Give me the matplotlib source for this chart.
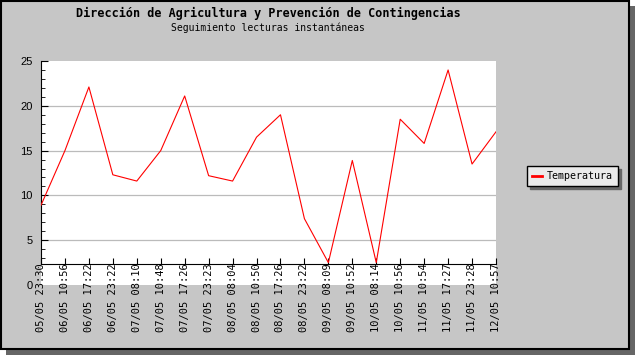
import matplotlib
matplotlib.use("Agg")
import matplotlib.pyplot as plt
from matplotlib.patches import Rectangle
from matplotlib.ticker import MultipleLocator

W, H = 635, 355

titulo = "Dirección de Agricultura y Prevención de Contingencias"
subtitulo = "Seguimiento lecturas instantáneas"
serie = "Temperatura"

etiquetas = ["05/05 23:30", "06/05 10:56", "06/05 17:22", "06/05 23:22",
             "07/05 08:10", "07/05 10:48", "07/05 17:26", "07/05 23:23",
             "08/05 08:04", "08/05 10:50", "08/05 17:26", "08/05 23:22",
             "09/05 08:09", "09/05 10:52", "10/05 08:14", "10/05 10:56",
             "11/05 10:54", "11/05 17:27", "11/05 23:28", "12/05 10:57"]
temperatura = [8.9, 15.0, 22.1, 12.3, 11.6, 15.0, 21.1, 12.2, 11.6, 16.5,
               19.0, 7.4, 2.5, 13.9, 2.5, 18.5, 15.8, 24.0, 13.5, 17.1]

fondo = "#C6C6C6"
mono = "DejaVu Sans Mono"


def caja(x, y, w, h, **kw):
    # rectangulo en pixeles de la figura (origen arriba a la izquierda)
    return Rectangle((x / W, 1 - (y + h) / H), w / W, h / H,
                     transform=fig.transFigure, zorder=-10, **kw)


fig = plt.figure(figsize=(W / 100, H / 100), dpi=100)
fig.patch.set_facecolor("white")

# marco con sombra
fig.add_artist(caja(6, 6, W - 6, H - 6, facecolor="#666666", edgecolor="none"))
fig.add_artist(caja(0.5, 0.5, 628, 348, facecolor=fondo, edgecolor="black", linewidth=1.5))

fig.text(268 / W, 1 - 13 / H, titulo, ha="center", va="center",
         family=mono, weight="bold", fontsize=8.5)
fig.text(268 / W, 1 - 28 / H, subtitulo, ha="center", va="center",
         family=mono, fontsize=7)

ax = fig.add_axes([41 / W, 1 - 285 / H, (496 - 41) / W, (285 - 61) / H])
ax.set_facecolor("white")

x = list(range(len(temperatura)))
ax.plot(x, temperatura, color="red", linewidth=0.8, label=serie, zorder=3)

ax.set_xlim(0, len(x) - 1)
ax.set_ylim(0, 25)

for y in [5, 10, 15, 20]:
    ax.axhline(y, color="#BBBBBB", linewidth=0.9, zorder=1)

ax.spines["top"].set_visible(False)
ax.spines["right"].set_visible(False)
ax.spines["bottom"].set_position(("data", 2.3))
ax.spines["left"].set_bounds(2.3, 25)

ax.set_xticks(x)
ax.set_xticklabels(etiquetas, rotation=90, family=mono, fontsize=7.5)
ax.tick_params(axis="x", direction="in", length=4, pad=-1)

ax.yaxis.set_major_locator(MultipleLocator(5))
ax.yaxis.set_minor_locator(MultipleLocator(1))
ax.tick_params(axis="y", which="major", direction="in", length=5, labelsize=8, pad=6)
ax.tick_params(axis="y", which="minor", direction="in", length=3)
for lab in ax.get_yticklabels():
    lab.set_family("Liberation Sans")
for t in ax.yaxis.get_major_ticks():
    if t.get_loc() < 2.3:
        t.tick1line.set_visible(False)
for t in ax.yaxis.get_minor_ticks():
    if t.get_loc() < 2.3:
        t.tick1line.set_visible(False)

leg = ax.legend(loc="center left", bbox_to_anchor=(527 / W, 1 - 176 / H),
                bbox_transform=fig.transFigure, borderaxespad=0,
                fancybox=False, edgecolor="black", facecolor="#EBEBEB", framealpha=1,
                shadow={"ox": 2.5, "oy": -2.5, "color": "#666666", "alpha": 1},
                prop={"family": mono, "size": 7.2}, handlelength=1.0,
                handletextpad=0.5, borderpad=0.5)
leg.get_frame().set_linewidth(1)
leg.get_lines()[0].set_linewidth(2)

fig.savefig("out.png", dpi=100, facecolor=fig.get_facecolor())
